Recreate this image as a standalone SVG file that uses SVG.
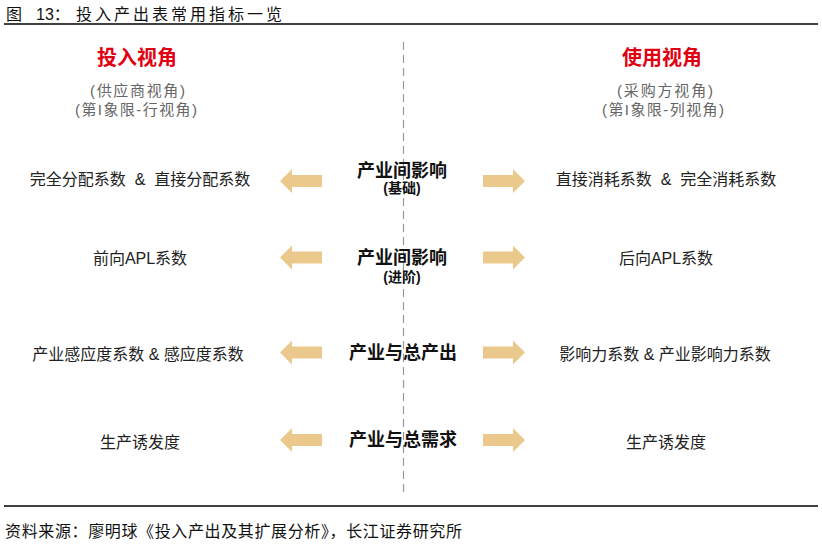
<svg xmlns="http://www.w3.org/2000/svg" width="822" height="550" viewBox="0 0 822 550">
<defs>
<style>
text{font-family:"Liberation Sans","Noto Sans CJK SC",sans-serif;dominant-baseline:central}
.t{font-size:16px;fill:#111}
.hd{font-size:20px;font-weight:bold;fill:#E00012;text-anchor:middle}
.sub{font-size:15px;fill:#666;text-anchor:middle}
.ctr{font-size:18px;font-weight:bold;fill:#111;text-anchor:middle}
.ctrs{font-size:14px;font-weight:bold;fill:#111;text-anchor:middle}
.item{font-size:16px;fill:#222;text-anchor:middle}
.arr{fill:#EBC98D}
.rule{stroke:#000;stroke-width:1.3}
</style>
<path id="la" d="M0,0 L12,-12 L12,-6 L42,-6 L42,6 L12,6 L12,12 Z"/>
<path id="ra" d="M0,0 L-12,-12 L-12,-6 L-42,-6 L-42,6 L-12,6 L-12,12 Z"/>
</defs>
<rect width="822" height="550" fill="#fff"/>
<g id="title">
<text class="t" x="6" y="14">图</text>
<text class="t" x="36" y="14">13：</text>
<text class="t" x="76" y="14" textLength="206" lengthAdjust="spacing">投入产出表常用指标一览</text>
<line class="rule" x1="4" y1="24" x2="818" y2="24"/>
</g>
<g id="divider">
<line x1="403.5" y1="42" x2="403.5" y2="497" stroke="#999" stroke-width="1.2" stroke-dasharray="8,5"/>
</g>
<g id="header-left">
<text class="hd" x="137" y="58">投入视角</text>
<text class="sub" x="137.5" y="90" textLength="95" lengthAdjust="spacing">(供应商视角)</text>
<text class="sub" x="136" y="109" textLength="122" lengthAdjust="spacing">(第I象限-行视角)</text>
</g>
<g id="header-right">
<text class="hd" x="662" y="58">使用视角</text>
<text class="sub" x="665" y="90" textLength="96" lengthAdjust="spacing">(采购方视角)</text>
<text class="sub" x="663" y="109" textLength="122" lengthAdjust="spacing">(第I象限-列视角)</text>
</g>
<g id="center1">
<text class="ctr" x="402" y="170.5">产业间影响</text>
<text class="ctrs" x="402" y="187.5">(基础)</text>
</g>
<g id="center2">
<text class="ctr" x="402" y="257.5">产业间影响</text>
<text class="ctrs" x="402" y="277">(进阶)</text>
</g>
<g id="center3">
<text class="ctr" x="403" y="352.5">产业与总产出</text>
</g>
<g id="center4">
<text class="ctr" x="403" y="440">产业与总需求</text>
</g>
<g id="left1"><text class="item" x="140" y="179.5" xml:space="preserve">完全分配系数  &amp;  直接分配系数</text></g>
<g id="left2"><text class="item" x="140" y="258">前向APL系数</text></g>
<g id="left3"><text class="item" x="138" y="354">产业感应度系数 &amp; 感应度系数</text></g>
<g id="left4"><text class="item" x="140" y="442">生产诱发度</text></g>
<g id="right1"><text class="item" x="666" y="179.5" xml:space="preserve">直接消耗系数  &amp;  完全消耗系数</text></g>
<g id="right2"><text class="item" x="666" y="258">后向APL系数</text></g>
<g id="right3"><text class="item" x="665" y="354">影响力系数 &amp; 产业影响力系数</text></g>
<g id="right4"><text class="item" x="666" y="442">生产诱发度</text></g>
<g id="connectors">
<use href="#la" class="arr" x="280" y="181"/>
<use href="#ra" class="arr" x="525" y="181"/>
<use href="#la" class="arr" x="280" y="257.5"/>
<use href="#ra" class="arr" x="525" y="257.5"/>
<use href="#la" class="arr" x="280" y="352.5"/>
<use href="#ra" class="arr" x="525" y="352.5"/>
<use href="#la" class="arr" x="280" y="440"/>
<use href="#ra" class="arr" x="525" y="440"/>
</g>
<g id="footer">
<line class="rule" x1="4" y1="506" x2="818" y2="506"/>
<text class="t" x="5" y="531" textLength="457" lengthAdjust="spacing">资料来源：廖明球《投入产出及其扩展分析》，长江证券研究所</text>
</g>
</svg>
